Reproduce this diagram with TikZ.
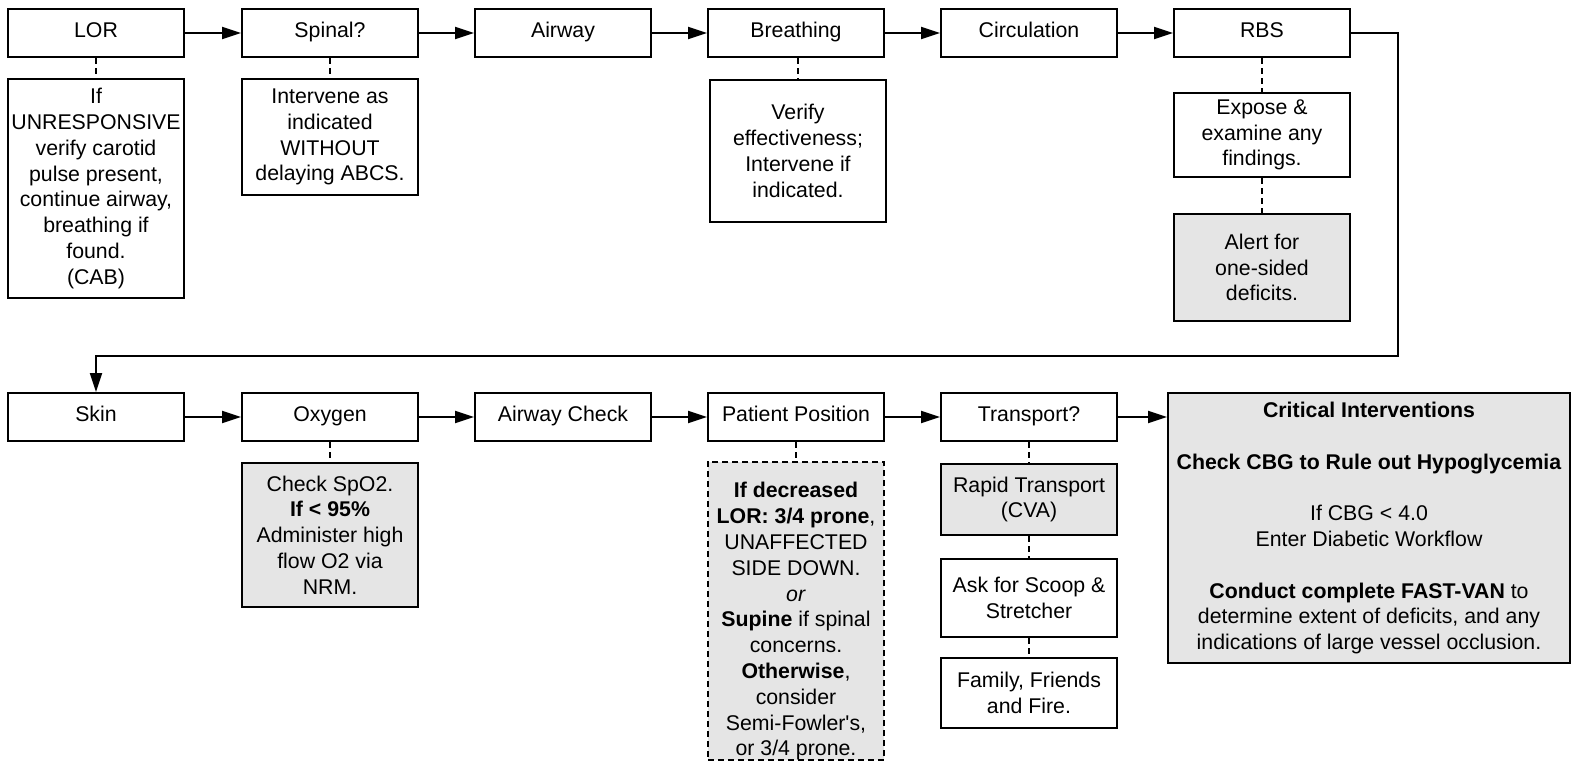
\documentclass[tikz,border=0pt]{standalone}
\usepackage{fontspec}
\setmainfont{Liberation Sans}
\usetikzlibrary{arrows.meta}
\definecolor{boxgray}{HTML}{E5E5E5}
\tikzset{
  box/.style={draw=black, line width=2pt, rectangle, inner sep=0pt, align=center,
    font=\fontsize{21.3pt}{25.8pt}\selectfont},
  main/.style={box, minimum width=176pt, minimum height=48pt, text height=15pt, text depth=6pt},
  sub/.style={box, minimum width=176pt},
  graybox/.style={fill=boxgray},
  flow/.style={line width=2pt, -{Triangle[length=19pt,width=12pt]}},
  link/.style={line width=2pt, dash pattern=on 6pt off 4pt},
}
\begin{document}
\begin{tikzpicture}[x=1pt,y=-1pt]
\useasboundingbox (0,0) rectangle (1571,761);
% top row
\node[main] (lor)  at (96,33)   {LOR};
\node[main] (spin) at (330,33)  {Spinal?};
\node[main] (air)  at (563,33)  {Airway};
\node[main] (brea) at (796,33)  {Breathing};
\node[main] (circ) at (1029,33) {Circulation};
\node[main] (rbs)  at (1262,33) {RBS};
% top sub boxes
\node[sub, minimum height=219pt] (lors) at (96,188.5)
  {If\\UNRESPONSIVE\\verify carotid\\pulse present,\\continue airway,\\breathing if\\found.\\(CAB)};
\node[sub, minimum height=116pt] (spins) at (330,137)
  {Intervene as\\indicated\\WITHOUT\\delaying ABCS.};
\node[sub, minimum height=142pt] (breas) at (798,151)
  {Verify\\effectiveness;\\Intervene if\\indicated.};
\node[sub, minimum height=84pt] (rbss) at (1262,135)
  {Expose \&\\examine any\\findings.};
\node[sub, graybox, minimum height=107pt] (alert) at (1262,267.5)
  {Alert for\\one-sided\\deficits.};
% bottom row
\node[main] (skin) at (96,417)   {Skin};
\node[main] (oxy)  at (330,417)  {Oxygen};
\node[main] (awc)  at (563,417)  {Airway Check};
\node[main] (pos)  at (796,417)  {Patient Position};
\node[main] (tra)  at (1029,417) {Transport?};
\node[box, graybox, minimum width=402pt, minimum height=270pt] (crit) at (1369,528)
  {\textbf{Critical Interventions}\\[25.8pt]\textbf{Check CBG to Rule out Hypoglycemia}\\[25.8pt]If CBG < 4.0\\Enter Diabetic Workflow\\[25.8pt]\textbf{Conduct complete FAST-VAN} to\\determine extent of deficits, and any\\indications of large vessel occlusion.};
% bottom sub boxes
\node[sub, graybox, minimum height=144pt] (oxys) at (330,535)
  {Check SpO2.\\\textbf{If < 95\%}\\Administer high\\flow O2 via\\NRM.};
\node[sub, graybox, dash pattern=on 6pt off 4pt, minimum height=296pt] (poss) at (796,611)
  {\rule{0pt}{36pt}\textbf{If decreased}\\\textbf{LOR: 3/4 prone},\\UNAFFECTED\\SIDE DOWN.\\\textit{or}\\\textbf{Supine} if spinal\\concerns.\\\textbf{Otherwise},\\consider\\Semi-Fowler\textquotesingle s,\\or 3/4 prone.};
\node[sub, graybox, minimum height=71pt] (rap) at (1029,499.5)
  {Rapid Transport\\(CVA)};
\node[sub, minimum height=78pt] (ask) at (1029,598)
  {Ask for Scoop \&\\Stretcher};
\node[sub, minimum height=70pt] (fam) at (1029,693)
  {Family, Friends\\and Fire.};
% flow arrows
\draw[flow] (lor) -- (spin);
\draw[flow] (spin) -- (air);
\draw[flow] (air) -- (brea);
\draw[flow] (brea) -- (circ);
\draw[flow] (circ) -- (rbs);
\draw[flow] (rbs.east) -- (1398,33) -- (1398,356) -- (96,356) -- (skin.north);
\draw[flow] (skin) -- (oxy);
\draw[flow] (oxy) -- (awc);
\draw[flow] (awc) -- (pos);
\draw[flow] (pos) -- (tra);
\draw[flow] (tra.east) -- (tra.east -| crit.west);
% dashed links
\draw[link] (lor.south) -- (lors.north);
\draw[link] (spin.south) -- (spins.north);
\draw[link] (brea.south -| breas.north) -- (breas.north);
\draw[link] (rbs.south) -- (rbss.north);
\draw[link] (rbss.south) -- (alert.north);
\draw[link] (oxy.south) -- (oxys.north);
\draw[link] (pos.south) -- (poss.north);
\draw[link] (tra.south) -- (rap.north);
\draw[link] (rap.south) -- (ask.north);
\draw[link] (ask.south) -- (fam.north);
\end{tikzpicture}
\end{document}
